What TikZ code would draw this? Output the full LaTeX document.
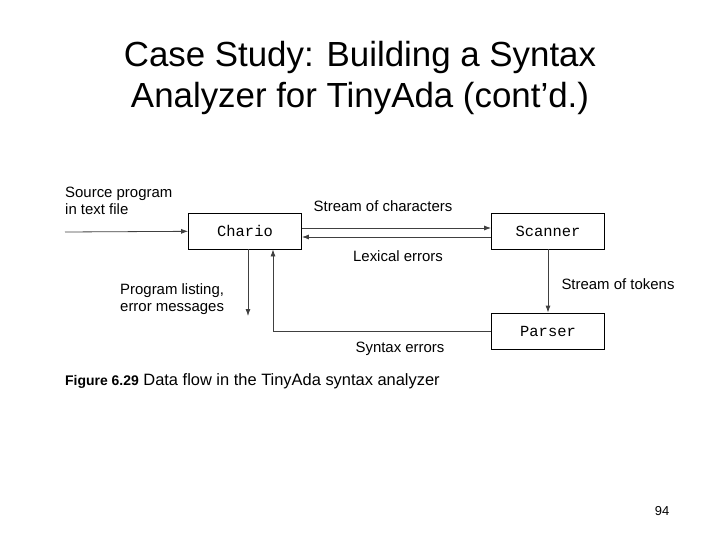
\documentclass[tikz,border=0pt]{standalone}
\usepackage{fontspec}
\setmainfont{Liberation Sans}
\setmonofont{Liberation Mono}
\usetikzlibrary{positioning,arrows.meta}

\begin{document}
\begin{tikzpicture}[x=1bp, y=-1bp, >={Latex[length=7bp,width=5bp]},
  box/.style={draw, line width=0.8bp, minimum width=113bp, minimum height=36bp, inner sep=0pt, font=\fontsize{15.5}{15.5}\ttfamily},
  flow/.style={->, line width=0.8bp, draw=black!75},
  lbl/.style={font=\fontsize{15}{17}\selectfont, inner sep=0pt, align=left}]
\useasboundingbox (0,0) rectangle (720,540);
\node[font=\fontsize{35}{42}\selectfont, align=center] (title) at (360,78) {Case Study: Building a Syntax\\Analyzer for TinyAda (cont'd.)};
\node[box]				(chario)	at (245,231)		{Chario};
\node[box]				(scanner)	at (548,231)		{Scanner};
\node[box]				(parser)	at (548,331)		{Parser};
\coordinate (src) at (65,232);
\coordinate (listing) at (248,316);
\draw[flow] (src) -- (chario);
\draw[flow] ([yshift=3bp]chario.east) -- ([yshift=3bp]scanner.west);
\draw[flow] ([yshift=-6bp]scanner.west) -- ([yshift=-6bp]chario.east);
\draw[flow] (scanner) -- (parser);
\draw[flow] (chario.south -| listing) -- (listing);
\draw[flow] (parser.west) -| ([xshift=28bp]chario.south);
\node[lbl, anchor=west]	(srclbl)	at (65,201)	{Source program\\in text file};
\node[lbl]				(chars)		at (383,206)	{Stream of characters};
\node[lbl]				(lexical)	at (398,256)	{Lexical errors};
\node[lbl]				(tokens)	at (618,284)	{Stream of tokens};
\node[lbl, anchor=west]	(lst)		at (120,299)	{Program listing,\\error messages};
\node[lbl]				(syntax)	at (400,349)	{Syntax errors};
\node[anchor=west, inner sep=0pt, font=\fontsize{16.5}{16.5}\selectfont] (caption) at (65,381) {{\fontsize{14}{14}\selectfont\bfseries Figure 6.29}\ Data flow in the TinyAda syntax analyzer};
\node[font=\fontsize{13}{13}\selectfont] (page) at (662,511) {94};
\end{tikzpicture}
\end{document}
